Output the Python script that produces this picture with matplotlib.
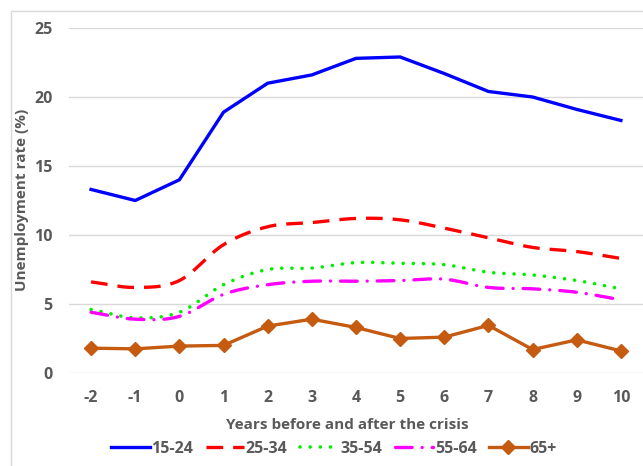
import numpy as np
import matplotlib.pyplot as plt
from matplotlib.patches import Rectangle

# Data
years = [-2, -1, 0, 1, 2, 3, 4, 5, 6, 7, 8, 9, 10]
age_15_24 = [13.3, 12.5, 14.0, 18.9, 21.0, 21.6, 22.8, 22.9, 21.7, 20.4, 20.0, 19.1, 18.3]
age_25_34 = [6.6, 6.2, 6.7, 9.3, 10.6, 10.9, 11.2, 11.1, 10.5, 9.8, 9.1, 8.8, 8.3]
age_35_54 = [4.6, 4.0, 4.4, 6.4, 7.5, 7.6, 8.0, 7.95, 7.85, 7.3, 7.1, 6.7, 6.1]
age_55_64 = [4.4, 3.9, 4.1, 5.7, 6.4, 6.65, 6.65, 6.7, 6.8, 6.2, 6.1, 5.85, 5.3]
age_65p = [1.8, 1.75, 1.95, 2.0, 3.4, 3.9, 3.3, 2.5, 2.6, 3.45, 1.7, 2.4, 1.6]

plt.rcParams['font.family'] = ['Open Sans', 'DejaVu Sans']
plt.rcParams['axes.unicode_minus'] = False
txt = '#595959'
fs = 11.5


def smooth(x, y, n=20):
    # Catmull-Rom curve through the points (like Excel's smoothed lines)
    x = np.asarray(x, float)
    y = np.asarray(y, float)
    px = np.concatenate([[2 * x[0] - x[1]], x, [2 * x[-1] - x[-2]]])
    py = np.concatenate([[2 * y[0] - y[1]], y, [2 * y[-1] - y[-2]]])
    xs, ys = [], []
    t = np.linspace(0, 1, n, endpoint=False)
    for i in range(1, len(px) - 2):
        for p, out in ((px, xs), (py, ys)):
            p0, p1, p2, p3 = p[i - 1], p[i], p[i + 1], p[i + 2]
            out.extend(0.5 * (2 * p1 + (-p0 + p2) * t
                              + (2 * p0 - 5 * p1 + 4 * p2 - p3) * t ** 2
                              + (-p0 + 3 * p1 - 3 * p2 + p3) * t ** 3))
    xs.append(x[-1])
    ys.append(y[-1])
    return xs, ys


fig = plt.figure(figsize=(6.43, 4.66), dpi=100)
ax = fig.add_axes([69 / 643, 1 - 373 / 466, 1 - 69 / 643, 345 / 466])

ax.plot(years, age_15_24, color='#0000ff', lw=2.4, label='15-24')
ax.plot(*smooth(years, age_25_34), color='#ff0000', lw=2.4,
        dashes=(5, 3), label='25-34')
ax.plot(*smooth(years, age_35_54), color='#00ee00', lw=2.6,
        dashes=(0.01, 2.8), dash_capstyle='round', label='35-54')
ax.plot(*smooth(years, age_55_64), color='#ff00ff', lw=2.4,
        dashes=(5, 3, 0.01, 3), dash_capstyle='round', label='55-64')
ax.plot(years, age_65p, color='#c55a11', lw=2.4, marker='D', ms=7,
        label='65+')

ax.set_xlim(-2.5, 10.5)
ax.set_ylim(0, 25)
ax.set_xticks(years)
ax.set_yticks([0, 5, 10, 15, 20, 25])
ax.grid(axis='y', color='#d9d9d9', lw=1)
ax.set_axisbelow(True)
for s in ax.spines.values():
    s.set_visible(False)
ax.tick_params(length=0, labelsize=fs, colors=txt, pad=12)
for lab in ax.get_xticklabels() + ax.get_yticklabels():
    lab.set_fontweight('bold')

fig.text(22 / 643, 1 - 200 / 466, 'Unemployment rate (%)', rotation=90,
         ha='center', va='center', fontsize=fs - 0.5, fontweight='bold', color=txt)
fig.text(347 / 643, 1 - 425 / 466, 'Years before and after the crisis',
         ha='center', va='center', fontsize=fs - 0.5, fontweight='bold', color=txt)

leg = fig.legend(loc='center', bbox_to_anchor=(334 / 643, 1 - 449 / 466),
                 ncol=5, frameon=False, handlelength=2.4, handletextpad=0.1,
                 columnspacing=0.8, fontsize=fs)
for t in leg.get_texts():
    t.set_color(txt)
    t.set_fontweight('bold')

fig.patches.append(Rectangle((11 / 643, -0.1), 1.2, 1 - 11 / 466 + 0.1,
                             transform=fig.transFigure, fill=False,
                             edgecolor='#d9d9d9', lw=1))

fig.savefig('out.png', dpi=100)
